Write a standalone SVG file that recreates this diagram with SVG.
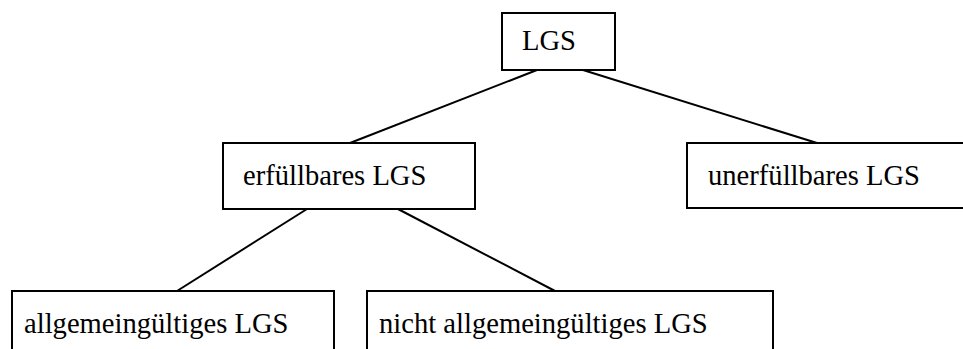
<svg xmlns="http://www.w3.org/2000/svg" width="963" height="349" viewBox="0 0 963 349">
  <style>
    .box { fill: #ffffff; stroke: #000000; stroke-width: 2; }
    .lbl { font-family: 'Liberation Serif', 'Times New Roman', Times, serif; font-size: 28.6px; fill: #000000; }
    .edge { stroke: #000000; stroke-width: 2; fill: none; }
  </style>
  <rect width="963" height="349" fill="#ffffff"/>
  <g id="connectors">
    <line class="edge" x1="537" y1="70" x2="350" y2="143"/>
    <line class="edge" x1="583" y1="70" x2="817" y2="143"/>
    <line class="edge" x1="307" y1="209" x2="177" y2="291"/>
    <line class="edge" x1="398" y1="209" x2="555" y2="291"/>
  </g>
  <g id="lgs">
    <rect class="box" x="502" y="13" width="113" height="57"/>
    <text class="lbl" x="522" y="50">LGS</text>
  </g>
  <g id="erfuellbar">
    <rect class="box" x="223" y="143" width="252" height="66"/>
    <text class="lbl" x="243" y="185">erfüllbares LGS</text>
  </g>
  <g id="unerfuellbar">
    <rect class="box" x="687" y="143" width="280" height="65"/>
    <text class="lbl" x="708" y="185">unerfüllbares LGS</text>
  </g>
  <g id="allgemeingueltig">
    <rect class="box" x="12" y="291" width="322" height="70"/>
    <text class="lbl" x="24" y="333">allgemeingültiges LGS</text>
  </g>
  <g id="nicht-allgemeingueltig">
    <rect class="box" x="367" y="291" width="406" height="70"/>
    <text class="lbl" x="379" y="333">nicht allgemeingültiges LGS</text>
  </g>
</svg>
